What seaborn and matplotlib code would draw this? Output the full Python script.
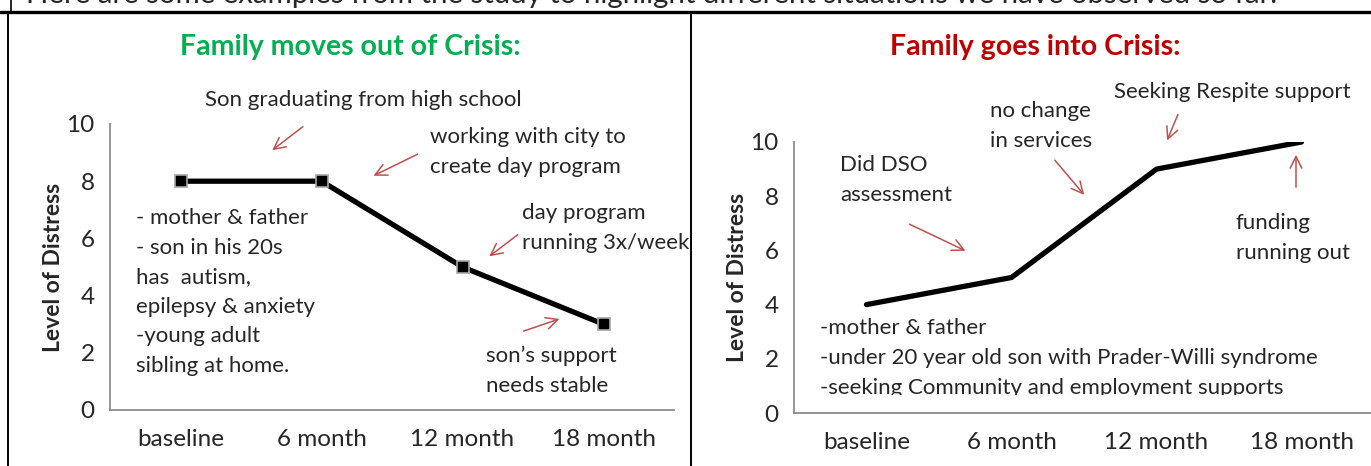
import pandas as pd
import matplotlib.pyplot as plt
import seaborn as sns
from matplotlib.patches import Rectangle

sns.set_theme(style="white")
plt.rcParams['font.family'] = ['Lato', 'DejaVu Sans']

W, H = 1371, 466

# data
months = ['baseline', '6 month', '12 month', '18 month']
out_of_crisis = [8, 8, 5, 3]
into_crisis = [4, 5, 9, 10]
y_ticks = [0, 2, 4, 6, 8, 10]

arrow_red = '#C0504D'
green = '#00B050'
dark_red = '#C00000'


def px(x, y):
    # pixel position (from top-left) -> figure fraction
    return (x / W, 1 - y / H)


def note(fig, x, y, s, **kw):
    return fig.text(*px(x, y), s, fontsize=16, va='center', ha='left', linespacing=1.6, **kw)


def arrow(fig, x0, y0, x1, y1):
    fig.add_artist(plt.Annotation('', xy=px(x1, y1), xytext=px(x0, y0),
                                  xycoords='figure fraction', textcoords='figure fraction',
                                  arrowprops=dict(arrowstyle='->,head_length=0.7,head_width=0.35',
                                                  color=arrow_red, lw=1.1)))


fig = plt.figure(figsize=(W / 100, H / 100), dpi=100)

# frame lines (table borders)
fig.add_artist(plt.Line2D([0, 1], [1 - 11.5 / H] * 2, color='black', lw=2.4))
fig.add_artist(plt.Line2D([11 / W] * 2, [1, 1 - 11 / H], color='black', lw=1.2))
fig.add_artist(plt.Line2D([8 / W] * 2, [0, 1 - 12 / H], color='black', lw=1.4))
fig.add_artist(plt.Line2D([691 / W] * 2, [0, 1 - 12 / H], color='black', lw=1.4))

fig.text(*px(26, 3), 'Here are some examples from the study to highlight different situations we have observed so far.',
         fontsize=21.2, ha='left', va='baseline')

ax1 = fig.add_axes([110 / W, 1 - 410 / H, 564 / W, 286 / H])
ax2 = fig.add_axes([794 / W, 1 - 413 / H, 580 / W, 271 / H])

df1 = pd.DataFrame({'month': months, 'distress': out_of_crisis})
df2 = pd.DataFrame({'month': months, 'distress': into_crisis})

sns.lineplot(data=df1, x='month', y='distress', ax=ax1, color='black', lw=3.8,
             marker='s', markersize=9, markerfacecolor='black', markeredgecolor='#A6A6A6',
             markeredgewidth=1.2, sort=False)
sns.lineplot(data=df2, x='month', y='distress', ax=ax2, color='black', lw=3.8, sort=False)

for ax in (ax1, ax2):
    ax.set_xlim(-0.5, 3.5)
    ax.set_ylim(0, 10)
    ax.set_yticks(y_ticks)
    ax.set_yticklabels([str(t) for t in y_ticks])
    ax.tick_params(axis='both', labelsize=17.5, length=0, pad=11)
    ax.tick_params(axis='x', pad=14)
    ax.set_xlabel('')
    ax.set_ylabel('Level of Distress', fontsize=16.5, fontweight='bold', labelpad=2)
    ax.set_facecolor('none')
    for s in ('top', 'right'):
        ax.spines[s].set_visible(False)
    for s in ('left', 'bottom'):
        ax.spines[s].set_color('#8C8C8C')
        ax.spines[s].set_linewidth(1.3)

# titles
fig.text(*px(350, 47), 'Family moves out of Crisis:', color=green, fontsize=20.5, fontweight='bold',
         ha='center', va='center')
fig.text(*px(1035, 47), 'Family goes into Crisis:', color=dark_red, fontsize=20.5, fontweight='bold',
         ha='center', va='center')

# left panel notes
note(fig, 205, 100, 'Son graduating from high school')
arrow(fig, 305, 125, 270, 152)
note(fig, 430, 152, 'working with city to\ncreate day program')
arrow(fig, 420, 153, 371, 177)
note(fig, 522, 228, 'day program\nrunning 3x/week')
arrow(fig, 520, 233, 487, 258)
note(fig, 136, 292, '- mother & father\n- son in his 20s\nhas  autism,\nepilepsy & anxiety\n-young adult\nsibling at home.')
arrow(fig, 521, 332, 562, 318)
note(fig, 486, 371, 'son\u2019s support\nneeds stable')

# right panel notes
note(fig, 1114, 92, 'Seeking Respite support')
arrow(fig, 1179, 112, 1166, 143)
note(fig, 990, 126, 'no change\nin services')
arrow(fig, 1053, 158, 1086, 197)
note(fig, 840, 180, 'Did DSO\nassessment')
arrow(fig, 907, 223, 968, 252)
note(fig, 1236, 238, 'funding\nrunning out')
arrow(fig, 1296, 190, 1296, 152)
t = note(fig, 820, 358, '-mother & father\n-under 20 year old son with Prader-Willi syndrome\n'
         '-seeking Community and employment supports')
# the box around this note cuts off the descenders of its last line
t.set_clip_path(Rectangle((0, 1 - 395 / H), 1, 395 / H, transform=fig.transFigure))

fig.savefig('out.png', dpi=100)
